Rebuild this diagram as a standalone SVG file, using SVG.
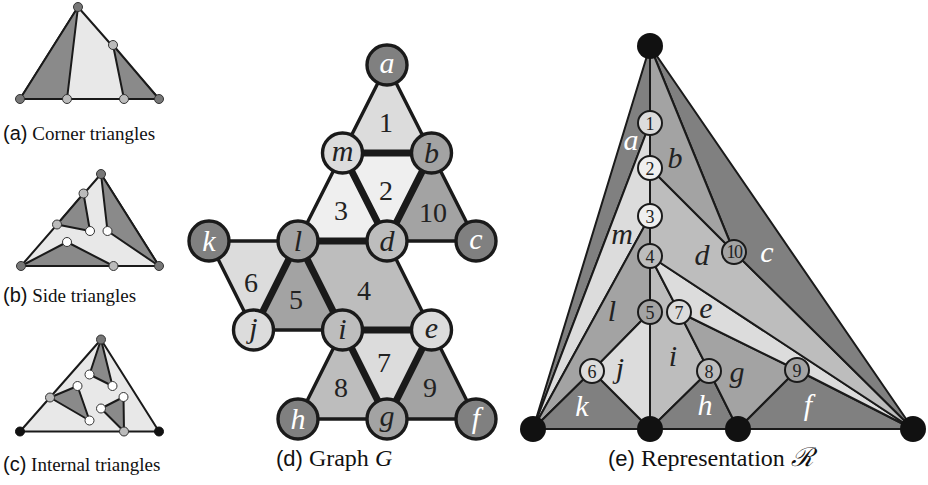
<svg xmlns="http://www.w3.org/2000/svg" width="928" height="485" viewBox="0 0 928 485">
<style>
.sm{stroke:#1a1a1a;stroke-width:2;stroke-linejoin:round}
.dk{fill:#808080}.md{fill:#a3a3a3}.lm{fill:#bdbdbd}.lt{fill:#dcdcdc}.xl{fill:#efefef}.pl{fill:#e8e8e8}.dp{fill:#8a8a8a}
.vd{fill:#777;stroke:#333;stroke-width:1}.vg{fill:#bbb;stroke:#333;stroke-width:1}.vw{fill:#fff;stroke:#333;stroke-width:1}.vb{fill:#111;stroke:#111;stroke-width:1}
.face{stroke:#1a1a1a;stroke-width:3.4;stroke-linejoin:round}
.thick{stroke:#1a1a1a;stroke-width:7;stroke-linecap:round}
.gn{stroke:#1a1a1a;stroke-width:3.4}
.gl{font-style:italic;font-size:30px;text-anchor:middle;fill:#222}
.num{font-size:28px;text-anchor:middle;fill:#222}
.en{stroke:#1a1a1a;stroke-width:2}
.enum{font-size:18px;text-anchor:middle;fill:#222}
.rl{font-style:italic;font-size:30px;text-anchor:middle;fill:#222}
.w{fill:#fff}
.cap{font-size:19px;fill:#111}
.cs{font-family:'Liberation Sans',Arial,sans-serif;font-size:20px}
.cap2{font-size:24px;fill:#111}
.cs2{font-family:'Liberation Sans',Arial,sans-serif;font-size:22px}
</style>
<g font-family="Liberation Serif, Times New Roman, DejaVu Serif, Noto Serif, serif">
<!-- (a) Corner triangles -->
<g id="panel-a">
<polygon class="sm pl" points="78,7 20,99 159,99"/>
<polygon class="sm dp" points="78,7 20,99 67,99"/>
<polygon class="sm dp" points="113,45 124,99 159,99"/>
<circle class="vd" cx="78" cy="7" r="4.5"/>
<circle class="vd" cx="20" cy="99" r="4.5"/>
<circle class="vd" cx="159" cy="99" r="4.5"/>
<circle class="vg" cx="67" cy="99" r="4.5"/>
<circle class="vg" cx="124" cy="99" r="4.5"/>
<circle class="vg" cx="113" cy="45" r="4.5"/>
<text class="cap" x="3" y="140"><tspan class="cs">(a)</tspan> Corner triangles</text>
</g>

<!-- (b) Side triangles -->
<g id="panel-b">
<polygon class="sm pl" points="101,174 21,266 159,266"/>
<polygon class="sm dp" points="83.5,193.5 90,231 57,224.5"/>
<polygon class="sm dp" points="101,174 107.5,231 159,266"/>
<polygon class="sm dp" points="21,266 67,242 113.5,266"/>
<circle class="vd" cx="101" cy="174" r="4.5"/>
<circle class="vd" cx="21" cy="266" r="4.5"/>
<circle class="vd" cx="159" cy="266" r="4.5"/>
<circle class="vg" cx="83.5" cy="193.5" r="4.5"/>
<circle class="vg" cx="57" cy="224.5" r="4.5"/>
<circle class="vg" cx="113.5" cy="266" r="4.5"/>
<circle class="vw" cx="90" cy="231" r="4.5"/>
<circle class="vw" cx="107.5" cy="231" r="4.5"/>
<circle class="vw" cx="67" cy="242" r="4.5"/>
<text class="cap" x="3" y="302"><tspan class="cs">(b)</tspan> Side triangles</text>
</g>

<!-- (c) Internal triangles -->
<g id="panel-c">
<polygon class="sm pl" points="101,339.5 20,431.5 159,431.5"/>
<polygon class="sm dp" points="101,339.5 89.5,374.5 112.5,386"/>
<polygon class="sm dp" points="50,397.5 77.5,386 89.5,420.5"/>
<polygon class="sm dp" points="101,408.5 123.5,397 124,431.5"/>
<circle class="vd" cx="101" cy="339.5" r="4.5"/>
<circle class="vb" cx="20" cy="431.5" r="4.5"/>
<circle class="vb" cx="159" cy="431.5" r="4.5"/>
<circle class="vg" cx="50" cy="397.5" r="4.5"/>
<circle class="vg" cx="124" cy="431.5" r="4.5"/>
<circle class="vw" cx="89.5" cy="374.5" r="4.5"/>
<circle class="vw" cx="112.5" cy="386" r="4.5"/>
<circle class="vw" cx="77.5" cy="386" r="4.5"/>
<circle class="vw" cx="89.5" cy="420.5" r="4.5"/>
<circle class="vw" cx="101" cy="408.5" r="4.5"/>
<circle class="vw" cx="123.5" cy="397" r="4.5"/>
<text class="cap" x="3" y="471"><tspan class="cs">(c)</tspan> Internal triangles</text>
</g>

<!-- (d) Graph G -->
<g id="graph-faces">
<polygon class="face lt" points="387,65 342.5,153 431.5,153"/>
<polygon class="face xl" points="342.5,153 431.5,153 387,241"/>
<polygon class="face xl" points="342.5,153 298,241 387,241"/>
<polygon class="face md" points="431.5,153 387,241 476,241"/>
<polygon class="face lm" points="298,241 387,241 431.5,330 342.5,330"/>
<polygon class="face md" points="298,241 253.5,330 342.5,330"/>
<polygon class="face lt" points="209,241 298,241 253.5,330"/>
<polygon class="face lt" points="342.5,330 431.5,330 387,419"/>
<polygon class="face lm" points="342.5,330 298,419 387,419"/>
<polygon class="face md" points="431.5,330 387,419 476,419"/>
<text class="num" x="386" y="132">1</text>
<text class="num" x="386" y="200">2</text>
<text class="num" x="341" y="220">3</text>
<text class="num" x="433" y="222">10</text>
<text class="num" x="364" y="300">4</text>
<text class="num" x="296" y="309">5</text>
<text class="num" x="251" y="292">6</text>
<text class="num" x="384" y="372">7</text>
<text class="num" x="341" y="397">8</text>
<text class="num" x="430" y="397">9</text>
</g>
<g id="graph-edges">
<line class="thick" x1="342.5" y1="153" x2="431.5" y2="153"/>
<line class="thick" x1="342.5" y1="153" x2="387" y2="241"/>
<line class="thick" x1="431.5" y1="153" x2="387" y2="241"/>
<line class="thick" x1="298" y1="241" x2="387" y2="241"/>
<line class="thick" x1="298" y1="241" x2="253.5" y2="330"/>
<line class="thick" x1="298" y1="241" x2="342.5" y2="330"/>
<line class="thick" x1="342.5" y1="330" x2="431.5" y2="330"/>
<line class="thick" x1="342.5" y1="330" x2="387" y2="419"/>
<line class="thick" x1="431.5" y1="330" x2="387" y2="419"/>
</g>
<g id="node-a"><circle class="gn dk" cx="387" cy="65" r="20"/><text class="gl w" x="387" y="73">a</text></g>
<g id="node-m"><circle class="gn lt" cx="342.5" cy="153" r="20"/><text class="gl" x="342.5" y="161">m</text></g>
<g id="node-b"><circle class="gn md" cx="431.5" cy="153" r="20"/><text class="gl" x="431.5" y="163">b</text></g>
<g id="node-k"><circle class="gn dk" cx="209" cy="241" r="20"/><text class="gl w" x="209" y="251">k</text></g>
<g id="node-l"><circle class="gn md" cx="298" cy="241" r="20"/><text class="gl" x="298" y="251">l</text></g>
<g id="node-d"><circle class="gn lm" cx="387" cy="241" r="20"/><text class="gl" x="387" y="251">d</text></g>
<g id="node-c"><circle class="gn dk" cx="476" cy="241" r="20"/><text class="gl w" x="476" y="249">c</text></g>
<g id="node-j"><circle class="gn lt" cx="253.5" cy="330" r="20"/><text class="gl" x="253.5" y="338">j</text></g>
<g id="node-i"><circle class="gn lm" cx="342.5" cy="330" r="20"/><text class="gl" x="342.5" y="339">i</text></g>
<g id="node-e"><circle class="gn lt" cx="431.5" cy="330" r="20"/><text class="gl" x="431.5" y="338">e</text></g>
<g id="node-h"><circle class="gn dk" cx="298" cy="419" r="20"/><text class="gl w" x="298" y="429">h</text></g>
<g id="node-g"><circle class="gn md" cx="387" cy="419" r="20"/><text class="gl" x="387" y="426">g</text></g>
<g id="node-f"><circle class="gn dk" cx="476" cy="419" r="20"/><text class="gl w" x="476" y="428">f</text></g>
<text class="cap2" x="276" y="466"><tspan class="cs2">(d)</tspan> Graph <tspan font-style="italic">G</tspan></text>

<!-- (e) Representation R -->
<g id="regions">
<polygon class="sm dk" points="650,46 650,123 533,429"/>
<polygon class="sm lt" points="650,123 650,216 533,429"/>
<polygon class="sm md" points="650,216 650,312 592,371 533,429"/>
<polygon class="sm dk" points="592,371 650,429 533,429"/>
<polygon class="sm lt" points="592,371 650,312 650,429"/>
<polygon class="sm lm" points="650,256 679,312 709,371 650,429"/>
<polygon class="sm dk" points="709,371 738,429 650,429"/>
<polygon class="sm md" points="679,312 797,370 738,429 709,371"/>
<polygon class="sm dk" points="797,370 913,429 738,429"/>
<polygon class="sm lt" points="650,256 913,429 797,370 679,312"/>
<polygon class="sm lm" points="650,168 734,252 913,429 650,256"/>
<polygon class="sm dk" points="650,46 913,429 734,252"/>
<polygon class="sm md" points="650,46 734,252 650,168"/>
</g>
<g id="rnode-1"><circle class="en lt" cx="650" cy="123" r="12"/><text class="enum" x="650" y="129.5">1</text></g>
<g id="rnode-2"><circle class="en xl" cx="650" cy="168" r="12"/><text class="enum" x="650" y="174.5">2</text></g>
<g id="rnode-3"><circle class="en xl" cx="650" cy="216" r="12"/><text class="enum" x="650" y="222.5">3</text></g>
<g id="rnode-4"><circle class="en lm" cx="650" cy="256" r="12"/><text class="enum" x="650" y="262.5">4</text></g>
<g id="rnode-5"><circle class="en md" cx="650" cy="312" r="12"/><text class="enum" x="650" y="318.5">5</text></g>
<g id="rnode-6"><circle class="en lt" cx="592" cy="371" r="12"/><text class="enum" x="592" y="377.5">6</text></g>
<g id="rnode-7"><circle class="en lt" cx="679" cy="312" r="12"/><text class="enum" x="679" y="318.5">7</text></g>
<g id="rnode-8"><circle class="en lm" cx="709" cy="371" r="12"/><text class="enum" x="709" y="377.5">8</text></g>
<g id="rnode-9"><circle class="en md" cx="797" cy="370" r="12"/><text class="enum" x="797" y="376.5">9</text></g>
<g id="rnode-10"><circle class="en md" cx="734" cy="252" r="12"/><text class="enum" x="734" y="258" font-size="16" letter-spacing="-1.5">10</text></g>
<g id="corners">
<circle fill="#111" cx="650" cy="46" r="13"/>
<circle fill="#111" cx="533" cy="429" r="13"/>
<circle fill="#111" cx="650" cy="429" r="13"/>
<circle fill="#111" cx="738" cy="429" r="13"/>
<circle fill="#111" cx="913" cy="429" r="13"/>
</g>
<g id="region-labels">
<text class="rl w" x="631" y="150">a</text>
<text class="rl" x="675" y="168">b</text>
<text class="rl w" x="767" y="262">c</text>
<text class="rl" x="702" y="265">d</text>
<text class="rl" x="706" y="318">e</text>
<text class="rl w" x="808" y="415">f</text>
<text class="rl" x="737" y="382">g</text>
<text class="rl w" x="705" y="415">h</text>
<text class="rl" x="673" y="366">i</text>
<text class="rl" x="620" y="378">j</text>
<text class="rl w" x="582" y="416">k</text>
<text class="rl" x="612" y="321">l</text>
<text class="rl" x="622" y="244">m</text>
</g>
<text class="cap2" x="608" y="466"><tspan class="cs2">(e)</tspan> Representation <tspan font-family="DejaVu Serif, serif" font-style="italic" font-size="26">ℛ</tspan></text>
</g>
</svg>
